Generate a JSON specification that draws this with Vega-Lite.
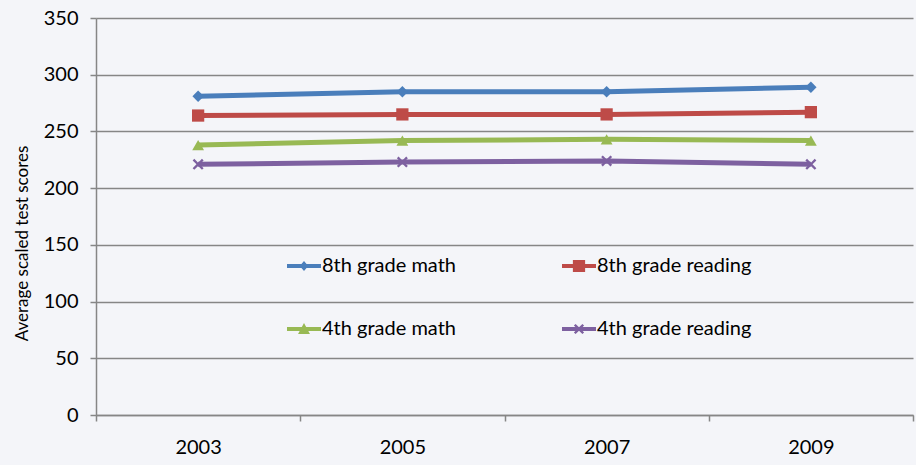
{
  "$schema": "https://vega.github.io/schema/vega-lite/v6.json",
  "width": 817,
  "height": 397,
  "autosize": "none",
  "padding": {"left": 96, "top": 18, "right": 3, "bottom": 50},
  "background": "#f4f5f9",
  "config": {
    "view": {"stroke": null},
    "font": "Lato",
    "axis": {"labelFont": "Lato", "titleFont": "Lato", "labelColor": "#000000", "titleColor": "#000000"}
  },
  "data": {
    "values": [
      {"series": "8th grade math", "year": "2003", "score": 281},
      {"series": "8th grade math", "year": "2005", "score": 285},
      {"series": "8th grade math", "year": "2007", "score": 285},
      {"series": "8th grade math", "year": "2009", "score": 289},
      {"series": "8th grade reading", "year": "2003", "score": 264},
      {"series": "8th grade reading", "year": "2005", "score": 265},
      {"series": "8th grade reading", "year": "2007", "score": 265},
      {"series": "8th grade reading", "year": "2009", "score": 267},
      {"series": "4th grade math", "year": "2003", "score": 238},
      {"series": "4th grade math", "year": "2005", "score": 242},
      {"series": "4th grade math", "year": "2007", "score": 243},
      {"series": "4th grade math", "year": "2009", "score": 242},
      {"series": "4th grade reading", "year": "2003", "score": 221},
      {"series": "4th grade reading", "year": "2005", "score": 223},
      {"series": "4th grade reading", "year": "2007", "score": 224},
      {"series": "4th grade reading", "year": "2009", "score": 221}
    ]
  },
  "encoding": {
    "x": {
      "field": "year", "type": "ordinal",
      "scale": {"type": "band", "paddingInner": 0, "paddingOuter": 0},
      "axis": {
        "title": null, "labelAngle": 0, "labelFontSize": 20, "labelPadding": 16,
        "tickBand": "extent", "tickColor": "#868686", "tickSize": 6, "tickWidth": 1.5,
        "domainColor": "#868686", "domainWidth": 1.5, "grid": false
      }
    },
    "y": {
      "field": "score", "type": "quantitative",
      "scale": {"domain": [0, 350]},
      "axis": {
        "title": "Average  scaled  test  scores", "titleFontSize": 17, "titleFontWeight": "normal",
        "titlePadding": 12, "titleY": 225,
        "values": [0, 50, 100, 150, 200, 250, 300, 350],
        "labelFontSize": 20, "labelPadding": 12,
        "tickColor": "#868686", "tickSize": 6, "tickWidth": 1.5,
        "domainColor": "#868686", "domainWidth": 1.5,
        "grid": true, "gridColor": "#868686", "gridWidth": 1.5
      }
    },
    "color": {
      "field": "series", "type": "nominal",
      "scale": {
        "domain": ["8th grade math", "8th grade reading", "4th grade math", "4th grade reading"],
        "range": ["#4a7ebb", "#be4b48", "#98b954", "#7d60a0"]
      },
      "legend": {
        "title": null, "orient": "none", "legendX": 191, "legendY": 231,
        "direction": "horizontal", "columns": 2, "columnPadding": 106, "rowPadding": 36,
        "padding": 0, "symbolSize": 1156, "symbolOpacity": 1, "symbolStrokeWidth": 0,
        "labelFontSize": 20, "labelFont": "Lato", "labelColor": "#000000", "labelOffset": 1, "labelLimit": 300
      }
    }
  },
  "layer": [
    {"mark": {"type": "line", "strokeWidth": 5}},
    {
      "transform": [{"filter": "datum.series == '8th grade math'"}],
      "mark": {"type": "point", "filled": true, "opacity": 1, "shape": "diamond", "size": 130}
    },
    {
      "transform": [{"filter": "datum.series == '8th grade reading'"}],
      "mark": {"type": "point", "filled": true, "opacity": 1, "shape": "square", "size": 150}
    },
    {
      "transform": [{"filter": "datum.series == '4th grade math'"}],
      "mark": {"type": "point", "filled": true, "opacity": 1, "shape": "triangle-up", "size": 140}
    },
    {
      "transform": [{"filter": "datum.series == '4th grade reading'"}],
      "mark": {"type": "point", "filled": true, "opacity": 1, "size": 120,
        "shape": "M-1,-0.7L-0.7,-1L0,-0.3L0.7,-1L1,-0.7L0.3,0L1,0.7L0.7,1L0,0.3L-0.7,1L-1,0.7L-0.3,0Z"}
    },
    {
      "mark": {"type": "point", "filled": true, "opacity": 0},
      "encoding": {
        "shape": {
          "field": "series", "type": "nominal",
          "scale": {
            "domain": ["8th grade math", "8th grade reading", "4th grade math", "4th grade reading"],
            "range": [
              "M-1,-0.12H1V0.12H-1Z M0,-0.3L0.25,0L0,0.3L-0.25,0Z",
              "M-1,-0.12H1V0.12H-1Z M-0.36,-0.36H0.36V0.36H-0.36Z",
              "M-1,-0.12H1V0.12H-1Z M0,-0.35L0.35,0.3H-0.35Z",
              "M-1,-0.12H1V0.12H-1Z M-0.3,-0.2L-0.2,-0.3L0,-0.1L0.2,-0.3L0.3,-0.2L0.1,0L0.3,0.2L0.2,0.3L0,0.1L-0.2,0.3L-0.3,0.2L-0.1,0Z"
            ]
          },
          "legend": {
            "title": null, "orient": "none", "legendX": 191, "legendY": 231,
            "direction": "horizontal", "columns": 2, "columnPadding": 106, "rowPadding": 36,
            "padding": 0, "symbolSize": 1156, "symbolOpacity": 1, "symbolStrokeWidth": 0,
            "labelFontSize": 20, "labelFont": "Lato", "labelColor": "#000000", "labelOffset": 1, "labelLimit": 300
          }
        }
      }
    }
  ]
}
